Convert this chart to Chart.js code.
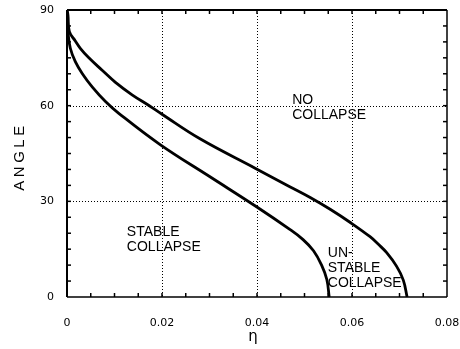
<!DOCTYPE html>
<html>
<head>
<meta charset="utf-8">
<script src="https://cdn.jsdelivr.net/npm/chart.js@4/dist/chart.umd.min.js"></script>
<style>
html,body{margin:0;padding:0;background:#fff;}
#wrap{width:460px;height:349px;position:relative;}
</style>
</head>
<body>
<div id="wrap"><canvas id="c" width="460" height="349"></canvas></div>
<script>
// ---- data ----
const xTickValues = [0, 0.02, 0.04, 0.06, 0.08];
const xTickLabels = ["0", "0.02", "0.04", "0.06", "0.08"];
const yTickValues = [0, 30, 60, 90];
const yTickLabels = ["0", "30", "60", "90"];

const outerEta   = [0, 0.0002, 0.0005, 0.00175, 0.0028, 0.0046, 0.0074, 0.0102, 0.0137, 0.0174, 0.02, 0.028, 0.0396, 0.0469, 0.0512, 0.0554, 0.0598, 0.0638, 0.0655, 0.0673, 0.0694, 0.0708, 0.0716];
const outerAngle = [90, 88.4, 83.2, 80.3, 78.0, 75.0, 71.1, 67.3, 63.4, 59.9, 57.3, 49.6, 40.4, 34.6, 31.2, 27.5, 23.2, 18.9, 16.6, 13.9, 9.6, 5.3, 0];

const innerEta   = [0, 0.0001, 0.0002, 0.0007, 0.00175, 0.0032, 0.0053, 0.0081, 0.0109, 0.0196, 0.0301, 0.0399, 0.0469, 0.0497, 0.0519, 0.0536, 0.0547, 0.0552];
const innerAngle = [90, 87, 83.2, 78, 73.8, 70.1, 65.9, 61.3, 57.6, 47.8, 37.7, 28.3, 21.2, 18.0, 14.5, 10.0, 5.5, 0];

const regionLabels = [
  { lines: ["NO", "COLLAPSE"], eta: 0.0474, angle: 61.8 },
  { lines: ["STABLE", "COLLAPSE"], eta: 0.0126, angle: 20.4 },
  { lines: ["UN-", "STABLE", "COLLAPSE"], eta: 0.0549, angle: 13.8 }
];
const xTitle = "η";
const yTitle = "ANGLE";

// ---- drawing ----
const xMinor = 0.005, yMinor = 5;

const decor = {
  id: 'decor',
  beforeDatasetsDraw(chart) {
    const {ctx, chartArea: a, scales: {x, y}} = chart;
    ctx.save();
    ctx.strokeStyle = '#000';
    ctx.lineWidth = 1;
    ctx.setLineDash([1, 2]);
    xTickValues.forEach(v => {
      if (v <= x.min || v >= x.max) return;
      const px = Math.round(x.getPixelForValue(v)) + 0.5;
      ctx.beginPath(); ctx.moveTo(px, a.top); ctx.lineTo(px, a.bottom); ctx.stroke();
    });
    yTickValues.forEach(v => {
      if (v <= y.min || v >= y.max) return;
      const py = Math.round(y.getPixelForValue(v)) + 0.5;
      ctx.beginPath(); ctx.moveTo(a.left, py); ctx.lineTo(a.right, py); ctx.stroke();
    });
    ctx.restore();
  },
  afterDatasetsDraw(chart) {
    const {ctx, chartArea: a, scales: {x, y}} = chart;
    ctx.save();
    ctx.strokeStyle = '#000';
    ctx.setLineDash([]);
    // minor ticks, inward, all four sides
    ctx.lineWidth = 1.5;
    const tl = 4;
    for (let k = 1; k * xMinor < x.max - 1e-9; k++) {
      const px = x.getPixelForValue(k * xMinor);
      ctx.beginPath(); ctx.moveTo(px, a.bottom); ctx.lineTo(px, a.bottom - tl); ctx.stroke();
      ctx.beginPath(); ctx.moveTo(px, a.top); ctx.lineTo(px, a.top + tl); ctx.stroke();
    }
    for (let k = 1; k * yMinor < y.max - 1e-9; k++) {
      const py = y.getPixelForValue(k * yMinor);
      ctx.beginPath(); ctx.moveTo(a.left, py); ctx.lineTo(a.left + tl, py); ctx.stroke();
      ctx.beginPath(); ctx.moveTo(a.right, py); ctx.lineTo(a.right - tl, py); ctx.stroke();
    }
    // frame
    ctx.lineWidth = 2;
    ctx.beginPath(); ctx.moveTo(a.left, a.top); ctx.lineTo(a.right, a.top); ctx.stroke();
    ctx.beginPath(); ctx.moveTo(a.left, a.top); ctx.lineTo(a.left, a.bottom); ctx.stroke();
    ctx.lineWidth = 1.5;
    ctx.beginPath(); ctx.moveTo(a.right, a.top); ctx.lineTo(a.right, a.bottom); ctx.stroke();
    ctx.beginPath(); ctx.moveTo(a.left, a.bottom); ctx.lineTo(a.right, a.bottom); ctx.stroke();

    // region labels
    ctx.fillStyle = '#000';
    ctx.font = '14px "Liberation Sans", Arial, sans-serif';
    ctx.textAlign = 'left';
    ctx.textBaseline = 'middle';
    regionLabels.forEach(r => {
      const px = x.getPixelForValue(r.eta);
      const py = y.getPixelForValue(r.angle);
      r.lines.forEach((t, i) => ctx.fillText(t, px, py + i * 15));
    });

    // axis titles
    ctx.font = '15px "DejaVu Sans", sans-serif';
    ctx.textAlign = 'center';
    ctx.fillText(xTitle, (a.left + a.right) / 2 - 4, 337);

    ctx.save();
    ctx.translate(20, (a.top + a.bottom) / 2 + 3);
    ctx.rotate(-Math.PI / 2);
    ctx.font = '15px "Liberation Sans", Arial, sans-serif';
    try { ctx.letterSpacing = '3.5px'; } catch (e) {}
    ctx.textAlign = 'center';
    ctx.fillText(yTitle, 0, 0);
    ctx.restore();
    ctx.restore();
  }
};

const toPts = (xs, ys) => xs.map((v, i) => ({x: v, y: ys[i]}));

new Chart(document.getElementById('c'), {
  type: 'line',
  data: {
    datasets: [
      { data: toPts(outerEta, outerAngle), borderColor: '#000', borderWidth: 2.8,
        pointRadius: 0, tension: 0.4, fill: false },
      { data: toPts(innerEta, innerAngle), borderColor: '#000', borderWidth: 2.8,
        pointRadius: 0, tension: 0.4, fill: false }
    ]
  },
  options: {
    responsive: false,
    animation: false,
    devicePixelRatio: 1,
    layout: { padding: { top: 10, right: 13, left: 0, bottom: 0 } },
    plugins: { legend: { display: false }, tooltip: { enabled: false } },
    scales: {
      x: {
        type: 'linear', min: 0, max: 0.08,
        afterFit: s => { s.height = 52; s.paddingLeft = 0; s.paddingRight = 0; s.paddingTop = 0; s.paddingBottom = 0; },
        afterBuildTicks: s => { s.ticks = xTickValues.map(v => ({value: v})); },
        grid: { display: false, drawTicks: false },
        border: { display: false },
        ticks: {
          padding: 20, color: '#000', maxRotation: 0, autoSkip: false,
          font: { family: '"DejaVu Sans", sans-serif', size: 11 },
          callback: (v, i) => xTickLabels[i]
        }
      },
      y: {
        type: 'linear', min: 0, max: 90,
        afterFit: s => { s.width = 67; s.paddingLeft = 0; s.paddingRight = 0; s.paddingTop = 0; s.paddingBottom = 0; },
        afterBuildTicks: s => { s.ticks = yTickValues.map(v => ({value: v})); },
        grid: { display: false, drawTicks: false },
        border: { display: false },
        ticks: {
          padding: 13, color: '#000', autoSkip: false,
          font: { family: '"DejaVu Sans", sans-serif', size: 11 },
          callback: (v, i) => yTickLabels[i]
        }
      }
    }
  },
  plugins: [decor]
});
</script>
</body>
</html>
